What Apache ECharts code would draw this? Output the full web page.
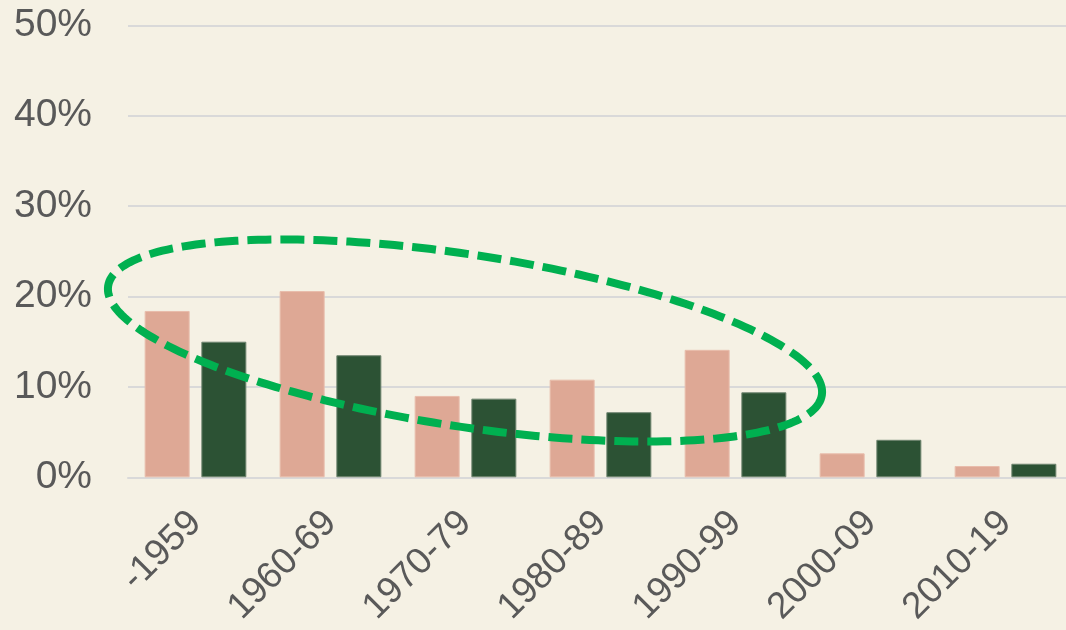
<!DOCTYPE html>
<html lang="en">
<head>
    <meta charset="UTF-8">
    <title>Share by decade</title>
    <script src="https://cdn.jsdelivr.net/npm/echarts@6/dist/echarts.min.js"></script>
    <style>
        html,
        body {
            height: 100%;
            margin: 0;
            padding: 0;
        }

        body {
            background-color: #f5f1e4;
            overflow: hidden;
        }

        #pic {
            width: 1066px;
            height: 630px;
        }
    </style>
</head>
<body>
    <div id="pic"></div>

    <script>
        // 數據 (percent)
        const decades = ['-1959', '1960-69', '1970-79', '1980-89', '1990-99', '2000-09', '2010-19'];
        const pinkValues = [18.4, 20.6, 9.0, 10.8, 14.1, 2.65, 1.25];
        const greenValues = [15.0, 13.5, 8.7, 7.2, 9.4, 4.15, 1.5];
        const yTicks = [0, 10, 20, 30, 40, 50];

        // dashed ellipse annotation (pixel space)
        function ellipsePoints(cx, cy, a, b, deg, n) {
            const t = deg * Math.PI / 180;
            const pts = [];
            for (let i = 0; i < n; i++) {
                const u = i / n * Math.PI * 2;
                const x = a * Math.cos(u), y = b * Math.sin(u);
                pts.push([cx + x * Math.cos(t) - y * Math.sin(t), cy + x * Math.sin(t) + y * Math.cos(t)]);
            }
            return pts;
        }

        var myChart = echarts.init(document.getElementById('pic'));

        var option = {
            backgroundColor: '#f5f1e4',
            animation: false,
            textStyle: { fontFamily: '"Liberation Sans", Arial, sans-serif' },
            grid: {
                left: 128, width: 945, top: 25.3, height: 452,
                containLabel: false,
                outerBoundsMode: 'none'
            },
            xAxis: {
                type: 'category',
                data: decades,
                axisTick: { show: false },
                axisLine: { lineStyle: { color: '#d9d9d9', width: 2 } },
                axisLabel: {
                    rotate: 45,
                    interval: 0,
                    margin: 40,
                    fontSize: 37,
                    color: '#595959'
                }
            },
            yAxis: {
                type: 'value',
                min: yTicks[0],
                max: yTicks[yTicks.length - 1],
                interval: 10,
                axisLine: { show: false },
                axisTick: { show: false },
                splitLine: { lineStyle: { color: '#d9d9d9', width: 2 } },
                axisLabel: {
                    formatter: '{value}%',
                    margin: 36,
                    fontSize: 39,
                    color: '#595959'
                }
            },
            series: [{
                name: 'A',
                type: 'bar',
                data: pinkValues,
                barWidth: 45,
                barGap: '26%',
                itemStyle: { color: '#dea895', borderColor: '#e8bcab', borderWidth: 1 }
            }, {
                name: 'B',
                type: 'bar',
                data: greenValues,
                barWidth: 45,
                itemStyle: { color: '#2c5234', borderColor: '#6f8570', borderWidth: 1 }
            }],
            graphic: [{
                type: 'polygon',
                z: 100,
                shape: { points: ellipsePoints(465, 340.5, 361, 86, 8.7, 240) },
                style: {
                    fill: null,
                    stroke: '#00b050',
                    lineWidth: 8,
                    lineDash: [24, 9]
                }
            }]
        };

        myChart.setOption(option);
    </script>
</body>
</html>
